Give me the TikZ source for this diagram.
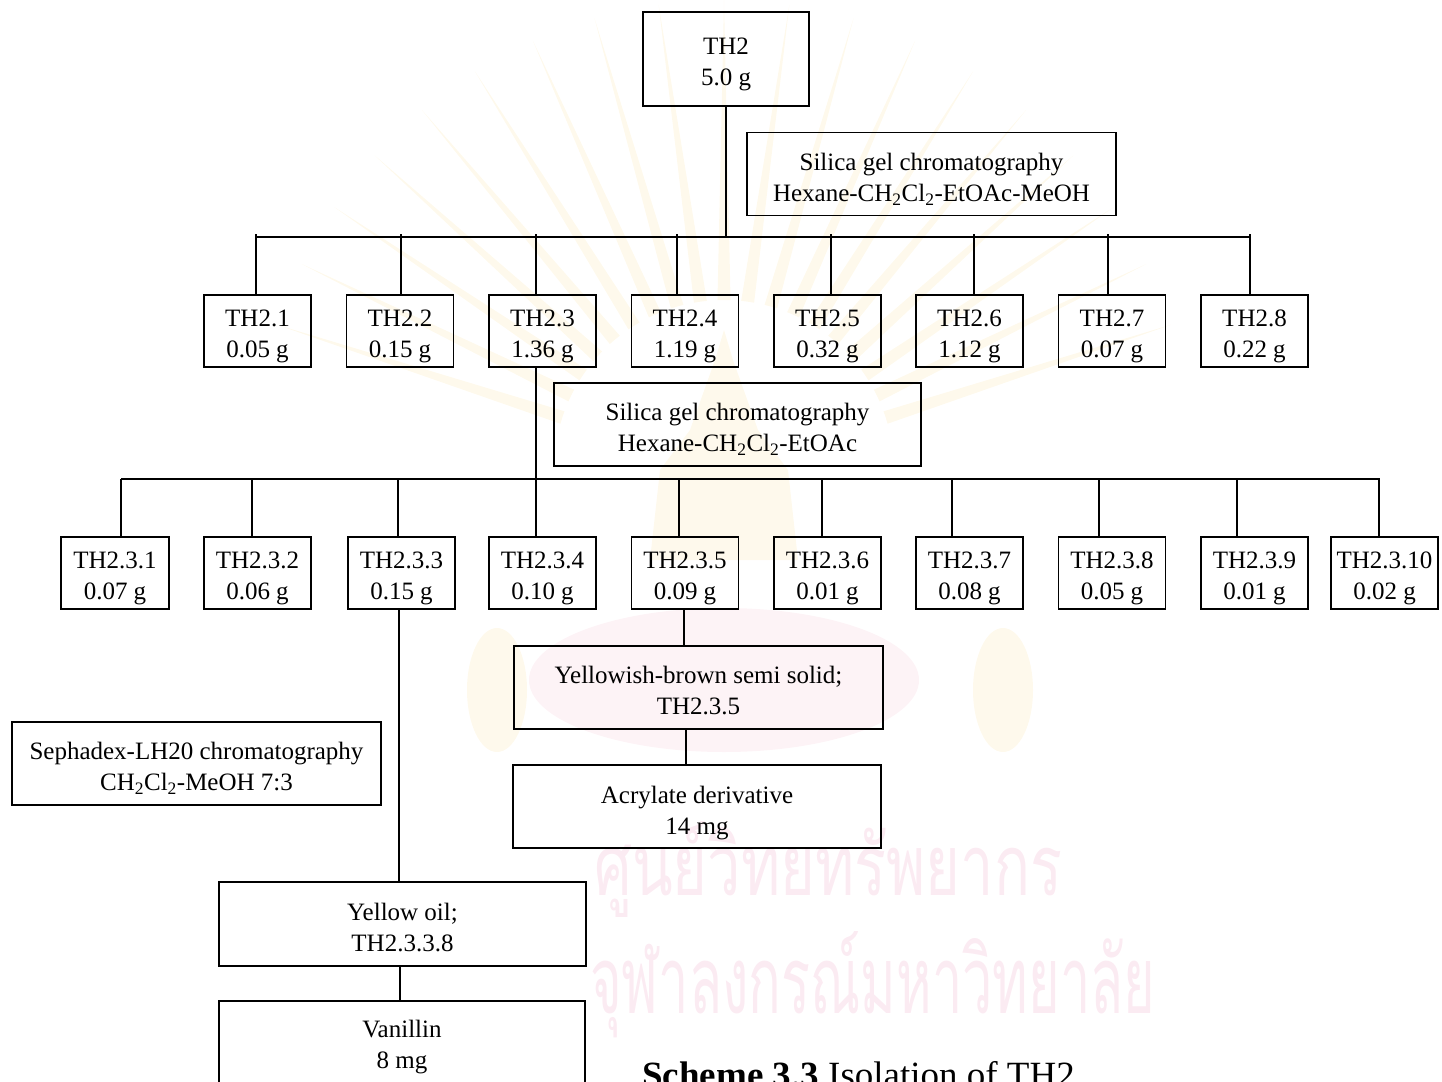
\documentclass[tikz,border=0pt]{standalone}
\usepackage{fontspec}
\usepackage{graphicx}
\usetikzlibrary{calc}
\setmainfont{Liberation Serif}
\newfontfamily\thaifont[Script=Thai]{Loma}
\newcommand\diagfont{\fontsize{25}{31}\selectfont}
\definecolor{rayyellow}{RGB}{254,249,236}
\definecolor{sealpink}{RGB}{253,243,246}
\definecolor{thaipink}{RGB}{251,235,242}
\tikzset{
  box/.style={draw, line width=1.5pt, inner sep=0pt},
  txt/.style={align=center, font=\diagfont, inner sep=0pt, yshift=-5pt},
  fracbox/.style={box, minimum width=107pt, minimum height=72pt},
  widebox/.style={box, minimum width=368pt, minimum height=83pt},
  link/.style={line width=1.3pt},
}
\begin{document}
\begin{tikzpicture}[x=1pt,y=-1pt]
\useasboundingbox (0,0) rectangle (1442,1081);

% --- faint university seal in the background ---
\begin{scope}[shift={(724,470)}]
  \foreach \a in {18,26,...,162}{
    \fill[rayyellow] (-\a-2.2:170) arc[start angle=-\a-2.2, end angle=-\a+2.2, radius=170]
      -- (-\a:470) -- cycle;
  }
\end{scope}
\fill[rayyellow] (650,560) -- (660,470) -- (690,430) -- (715,360) -- (724,330) -- (733,360) -- (758,430) -- (788,470) -- (798,560) -- cycle;
\fill[sealpink] (724,680) ellipse[x radius=195, y radius=72];
\fill[rayyellow] (497,690) ellipse[x radius=30, y radius=62];
\fill[rayyellow] (1003,690) ellipse[x radius=30, y radius=62];
\node[anchor=base west, inner sep=0pt, text=thaipink] (wm1) at (594,895)
  {\resizebox{468pt}{74pt}{\thaifont\fontsize{90}{90}\selectfont ศูนย์วิทยทรัพยากร}};
\node[anchor=base west, inner sep=0pt, text=thaipink] (wm2) at (590,1013)
  {\resizebox{565pt}{82pt}{\thaifont\fontsize{90}{90}\selectfont จุฬาลงกรณ์มหาวิทยาลัย}};

% --- root and first column ---
\node[box, minimum width=166pt, minimum height=94pt, label={[txt]center:{TH2\\5.0 g}}] (th2) at (726,59) {};
\node[widebox, minimum width=369pt, label={[txt]center:{Silica gel chromatography\\Hexane-CH\textsubscript{2}Cl\textsubscript{2}-EtOAc-MeOH}}] (sil1) at (931.5,174) {};

\node[fracbox, label={[txt]center:{TH2.1\\0.05 g}}] (f1) at (257.5,331) {};
\node[fracbox, label={[txt]center:{TH2.2\\0.15 g}}] (f2) at (400,331) {};
\node[fracbox, label={[txt]center:{TH2.3\\1.36 g}}] (f3) at (542.5,331) {};
\node[fracbox, label={[txt]center:{TH2.4\\1.19 g}}] (f4) at (685,331) {};
\node[fracbox, label={[txt]center:{TH2.5\\0.32 g}}] (f5) at (827.5,331) {};
\node[fracbox, label={[txt]center:{TH2.6\\1.12 g}}] (f6) at (969.5,331) {};
\node[fracbox, label={[txt]center:{TH2.7\\0.07 g}}] (f7) at (1112,331) {};
\node[fracbox, label={[txt]center:{TH2.8\\0.22 g}}] (f8) at (1254.5,331) {};

% --- second column on TH2.3 ---
\node[widebox, minimum width=367pt, label={[txt]center:{Silica gel chromatography\\Hexane-CH\textsubscript{2}Cl\textsubscript{2}-EtOAc}}] (sil2) at (737.5,424.5) {};

\node[fracbox, minimum width=108pt, label={[txt]center:{TH2.3.1\\0.07 g}}] (g1) at (115,573) {};
\node[fracbox, label={[txt]center:{TH2.3.2\\0.06 g}}] (g2) at (257.5,573) {};
\node[fracbox, label={[txt]center:{TH2.3.3\\0.15 g}}] (g3) at (401.5,573) {};
\node[fracbox, label={[txt]center:{TH2.3.4\\0.10 g}}] (g4) at (542.5,573) {};
\node[fracbox, label={[txt]center:{TH2.3.5\\0.09 g}}] (g5) at (685,573) {};
\node[fracbox, label={[txt]center:{TH2.3.6\\0.01 g}}] (g6) at (827.5,573) {};
\node[fracbox, label={[txt]center:{TH2.3.7\\0.08 g}}] (g7) at (969.5,573) {};
\node[fracbox, label={[txt]center:{TH2.3.8\\0.05 g}}] (g8) at (1112,573) {};
\node[fracbox, label={[txt]center:{TH2.3.9\\0.01 g}}] (g9) at (1254.5,573) {};
\node[fracbox, label={[txt]center:{TH2.3.10\\0.02 g}}] (g10) at (1384.5,573) {};

% --- purification branches ---
\node[widebox, minimum width=369pt, label={[txt]center:{Sephadex-LH20 chromatography\\CH\textsubscript{2}Cl\textsubscript{2}-MeOH 7:3}}] (seph) at (196.5,763.5) {};
\node[widebox, minimum width=369pt, label={[txt, yshift=2pt]center:{Yellowish-brown semi solid;\\TH2.3.5}}] (ybs) at (698.5,687.5) {};
\node[widebox, label={[txt, yshift=-2pt]center:{Acrylate derivative\\14 mg}}] (acr) at (697,806.5) {};
\node[widebox, minimum width=367pt, minimum height=84pt, label={[txt, yshift=2pt]center:{Yellow oil;\\TH2.3.3.8}}] (yoil) at (402.5,924) {};
\node[widebox, minimum width=366pt, label={[txt]center:{Vanillin\\8 mg}}] (van) at (402,1042.5) {};

\node[anchor=base west, inner sep=0pt, font=\fontsize{37}{40}\selectfont] (cap) at (642,1087)
  {\textbf{Scheme 3.3} Isolation of TH2};

% --- connectors: first split ---
\coordinate (bus1) at (726,237);
\draw[link] (th2.south) -- (bus1);
\draw[link] (256,237) coordinate (bus1w) -- (1250,237) coordinate (bus1e);
\foreach \x/\n in {256/f1, 401/f2, 536/f3, 677/f4, 831/f5, 974/f6, 1108/f7, 1250/f8}{
  \draw[link] (\x,234) -- (\x,0 |- \n.north);
}

% --- connectors: second split ---
\draw[link] (121,479) coordinate (bus2w) -- (1380,479) coordinate (bus2e);
\draw[link] (536,0 |- f3.south) -- (536,0 |- g4.north);
\foreach \x/\n in {121/g1, 252/g2, 398/g3, 679/g5, 822/g6, 952/g7, 1099/g8, 1237/g9, 1379/g10}{
  \draw[link] (\x,479) -- (\x,0 |- \n.north);
}

% --- connectors: final fractions ---
\draw[link] (399,0 |- g3.south) -- (399,0 |- yoil.north);
\draw[link] (400,0 |- yoil.south) -- (400,0 |- van.north);
\draw[link] (684,0 |- g5.south) -- (684,0 |- ybs.north);
\draw[link] (686,0 |- ybs.south) -- (686,0 |- acr.north);
\end{tikzpicture}
\end{document}
